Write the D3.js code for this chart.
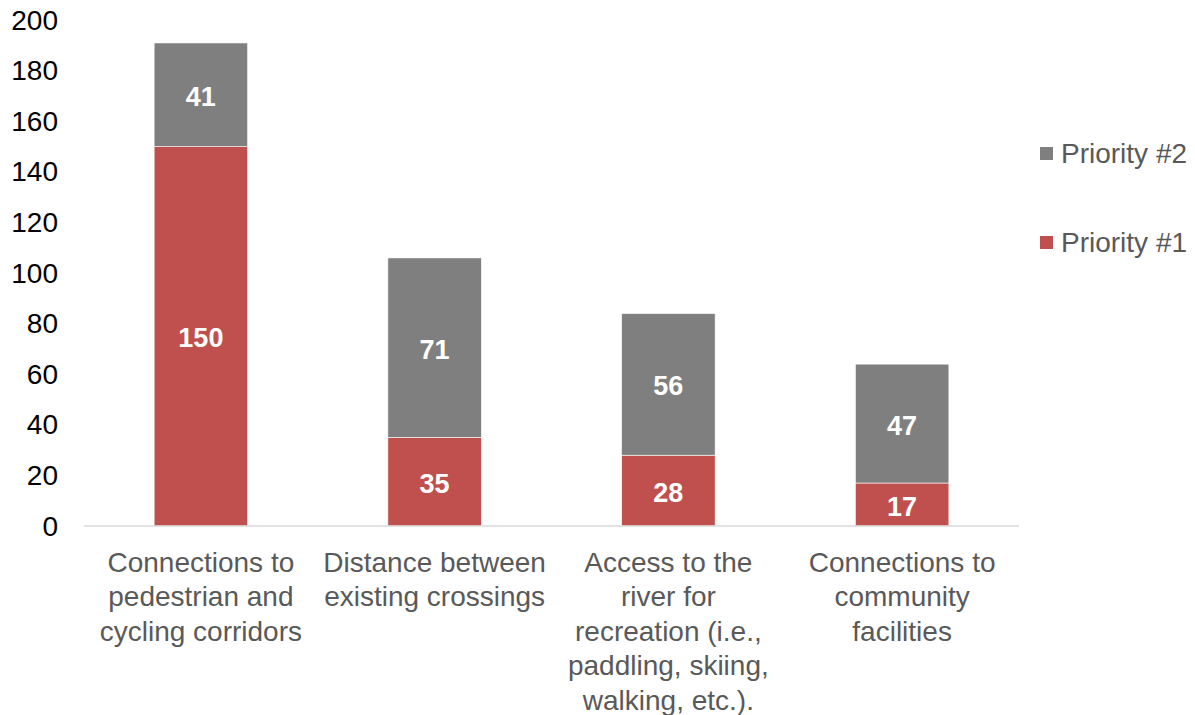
<!DOCTYPE html>
<html>
<head>
<meta charset="utf-8">
<script src="https://cdn.jsdelivr.net/npm/d3@7/dist/d3.min.js"></script>
<style>
  html, body { margin: 0; padding: 0; background: #fff; }
  svg { display: block; font-family: "Liberation Sans", Arial, sans-serif; }
</style>
</head>
<body>
<svg id="chart" width="1195" height="715"></svg>
<script>
// Survey results: importance of crossing criteria, stacked by priority rank
const categories = [
  ["Connections to", "pedestrian and", "cycling corridors"],
  ["Distance between", "existing crossings"],
  ["Access to the", "river for", "recreation (i.e.,", "paddling, skiing,", "walking, etc.)."],
  ["Connections to", "community", "facilities"]
];
const priority1 = [150, 35, 28, 17];
const priority2 = [41, 71, 56, 47];
const seriesNames = ["Priority #1", "Priority #2"];
const seriesColors = ["#C0504D", "#7F7F7F"];
const yTicks = [0, 20, 40, 60, 80, 100, 120, 140, 160, 180, 200];

const svg = d3.select("#chart");
const plot = { left: 84, right: 1019, top: 20.2, bottom: 526 };

const keys = categories.map((c, i) => i);
const x = d3.scaleBand()
  .domain(keys)
  .range([plot.left, plot.right])
  .paddingInner(0.6)
  .paddingOuter(0.3);

const y = d3.scaleLinear()
  .domain([0, 200])
  .range([plot.bottom, plot.top]);

const rows = keys.map(i => ({ i, p1: priority1[i], p2: priority2[i] }));
const stack = d3.stack().keys(["p1", "p2"]);
const layers = stack(rows);

// Stacked bars
const g = svg.append("g");
layers.forEach((layer, li) => {
  g.selectAll(null)
    .data(layer)
    .enter()
    .append("rect")
    .attr("x", d => x(d.data.i))
    .attr("width", x.bandwidth())
    .attr("y", d => y(d[1]))
    .attr("height", d => y(d[0]) - y(d[1]))
    .attr("fill", seriesColors[li])
    .attr("stroke", "#ffffff")
    .attr("stroke-width", 0.6);
});

// Value labels inside each segment
layers.forEach((layer, li) => {
  g.selectAll(null)
    .data(layer)
    .enter()
    .append("text")
    .attr("x", d => x(d.data.i) + x.bandwidth() / 2)
    .attr("y", d => y((d[0] + d[1]) / 2) + 2)
    .attr("text-anchor", "middle")
    .attr("dominant-baseline", "central")
    .attr("fill", "#ffffff")
    .attr("font-weight", "bold")
    .attr("font-size", "27px")
    .text(d => d[1] - d[0]);
});

// Category axis line
svg.append("line")
  .attr("x1", plot.left).attr("x2", plot.right)
  .attr("y1", y(0)).attr("y2", y(0))
  .attr("stroke", "#D9D9D9")
  .attr("stroke-width", 1.5);

// Value axis tick labels
svg.append("g")
  .selectAll("text")
  .data(yTicks)
  .enter()
  .append("text")
  .attr("x", 58)
  .attr("y", d => y(d))
  .attr("text-anchor", "end")
  .attr("dominant-baseline", "central")
  .attr("fill", "#000000")
  .attr("font-size", "28px")
  .text(d => d);

// Multi-line category labels
const catG = svg.append("g");
categories.forEach((lines, i) => {
  const t = catG.append("text")
    .attr("x", x(i) + x.bandwidth() / 2)
    .attr("y", 562)
    .attr("text-anchor", "middle")
    .attr("fill", "#595959")
    .attr("font-size", "28px");
  lines.forEach((ln, k) => {
    t.append("tspan")
      .attr("x", x(i) + x.bandwidth() / 2)
      .attr("y", 562 + k * 34.6)
      .attr("dominant-baseline", "central")
      .text(ln);
  });
});

// Legend (Priority #2 listed above Priority #1)
const legendItems = [
  { name: seriesNames[1], color: seriesColors[1], cy: 153 },
  { name: seriesNames[0], color: seriesColors[0], cy: 242 }
];
const lg = svg.append("g");
legendItems.forEach(it => {
  lg.append("rect")
    .attr("x", 1040).attr("y", it.cy - 6)
    .attr("width", 13).attr("height", 13)
    .attr("fill", it.color);
  lg.append("text")
    .attr("x", 1061).attr("y", it.cy)
    .attr("dominant-baseline", "central")
    .attr("fill", "#595959")
    .attr("font-size", "28px")
    .text(it.name);
});
</script>
</body>
</html>
